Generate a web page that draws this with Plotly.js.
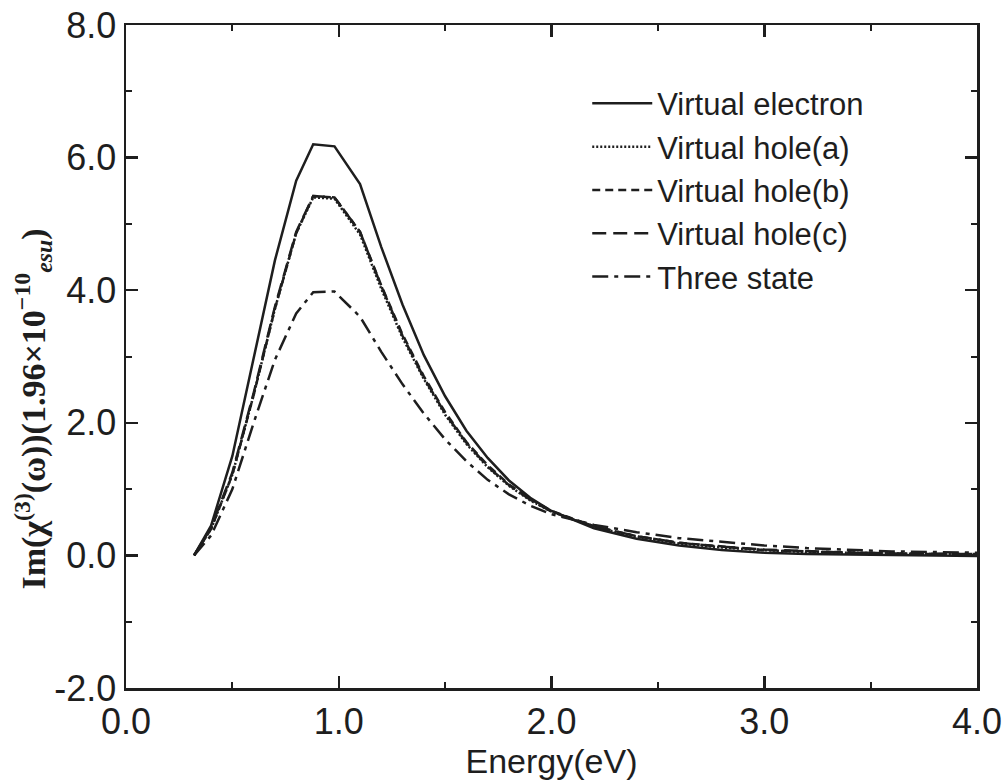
<!DOCTYPE html>
<html>
<head>
<meta charset="utf-8">
<script src="https://cdn.plot.ly/plotly-3.0.1.min.js"></script>
<style>html,body{margin:0;padding:0;background:#fff;}#chart{width:1006px;height:784px;}</style>
</head>
<body>
<div id="chart"></div>
<script>
// Energy (eV)
const energy = [0.32, 0.4, 0.5, 0.6, 0.7, 0.8, 0.88, 0.98, 1.1, 1.2, 1.3, 1.4, 1.5, 1.6, 1.7, 1.8, 1.9, 2.0, 2.2, 2.4, 2.6, 2.8, 3.0, 3.2, 3.4, 3.6, 3.8, 4.0];

const virtualElectron = [0, 0.45, 1.5, 2.95, 4.45, 5.65, 6.2, 6.17, 5.6, 4.65, 3.78, 3.02, 2.4, 1.88, 1.47, 1.13, 0.87, 0.67, 0.41, 0.25, 0.15, 0.08, 0.04, 0.02, 0.01, 0.0, -0.01, -0.01];
const virtualHoleA = [0, 0.40, 1.22, 2.42, 3.72, 4.86, 5.40, 5.38, 4.84, 4.02, 3.28, 2.66, 2.12, 1.68, 1.33, 1.05, 0.83, 0.66, 0.43, 0.28, 0.18, 0.12, 0.08, 0.05, 0.04, 0.03, 0.02, 0.01];
const virtualHoleB = [0, 0.40, 1.22, 2.42, 3.72, 4.86, 5.42, 5.40, 4.88, 4.07, 3.33, 2.70, 2.16, 1.71, 1.36, 1.07, 0.85, 0.67, 0.44, 0.29, 0.19, 0.13, 0.08, 0.06, 0.04, 0.03, 0.02, 0.02];
const virtualHoleC = [0, 0.42, 1.25, 2.45, 3.75, 4.88, 5.42, 5.40, 4.88, 4.06, 3.31, 2.68, 2.14, 1.70, 1.34, 1.06, 0.84, 0.66, 0.44, 0.29, 0.19, 0.13, 0.09, 0.06, 0.04, 0.03, 0.02, 0.02];
const threeState = [0, 0.30, 1.00, 2.00, 2.95, 3.65, 3.97, 3.98, 3.60, 3.07, 2.58, 2.14, 1.75, 1.42, 1.14, 0.92, 0.75, 0.62, 0.46, 0.35, 0.26, 0.20, 0.15, 0.11, 0.08, 0.06, 0.05, 0.04];

const seriesNames = ["Virtual electron", "Virtual hole(a)", "Virtual hole(b)", "Virtual hole(c)", "Three state"];
const xTitle = "Energy(eV)";
const yTitle = "<b>Im(χ<sup>(3)</sup>(ω))(1.96×10<sup>−10</sup><sub><i>esu</i></sub>)</b>";

const xTickVals = [0, 1, 2, 3, 4];
const xTickText = ["0.0", "1.0", "2.0", "3.0", "4.0"];
const yTickVals = [-2, 0, 2, 4, 6, 8];
const yTickText = ["-2.0", "0.0", "2.0", "4.0", "6.0", "8.0"];

const ink = "#1e1e1e";
const mk = (y, name, dash, w) => ({
  x: energy, y: y, name: name, type: "scatter", mode: "lines",
  line: {color: ink, width: w, dash: dash}
});

const data = [
  mk(virtualElectron, seriesNames[0], "solid", 2.5),
  mk(virtualHoleA, seriesNames[1], "2px,2px", 2.5),
  mk(virtualHoleB, seriesNames[2], "8px,5px", 2.5),
  mk(virtualHoleC, seriesNames[3], "14px,7px", 2.5),
  mk(threeState, seriesNames[4], "16px,6px,4px,6px", 2.5)
];

const sans = "Liberation Sans, Arial, sans-serif";
const axisCommon = {
  showgrid: false, zeroline: false, showline: true, linecolor: ink, linewidth: 2.5,
  mirror: "ticks", ticks: "inside", ticklen: 12, tickwidth: 2.5, tickcolor: ink,
  tickfont: {family: sans, size: 36, color: ink}
};

const layout = {
  width: 1006, height: 784,
  margin: {l: 126, r: 29, t: 25, b: 96},
  paper_bgcolor: "#fff", plot_bgcolor: "#fff",
  showlegend: true,
  legend: {
    x: 0.542, y: 0.922, xanchor: "left", yanchor: "top",
    bgcolor: "rgba(0,0,0,0)", borderwidth: 0,
    font: {family: sans, size: 31, color: ink},
    itemwidth: 60, tracegroupgap: 0
  },
  xaxis: Object.assign({}, axisCommon, {
    range: [0, 4], tickmode: "array", tickvals: xTickVals, ticktext: xTickText,
    minor: {dtick: 0.5, ticks: "inside", ticklen: 6, tickwidth: 2, tickcolor: ink},
    title: {text: xTitle, font: {family: sans, size: 34, color: ink}, standoff: 6}
  }),
  yaxis: Object.assign({}, axisCommon, {
    range: [-2, 8], tickmode: "array", tickvals: yTickVals, ticktext: yTickText,
    minor: {dtick: 1, ticks: "inside", ticklen: 6, tickwidth: 2, tickcolor: ink}
  }),
  annotations: [{
    text: yTitle, xref: "paper", yref: "paper", x: 0, y: 0.42,
    xanchor: "center", yanchor: "middle", xshift: -93, textangle: -90, showarrow: false,
    font: {family: "Liberation Serif, Times New Roman, serif", size: 34, color: ink}
  }]
};

Plotly.newPlot("chart", data, layout, {displayModeBar: false, staticPlot: true});
</script>
</body>
</html>
